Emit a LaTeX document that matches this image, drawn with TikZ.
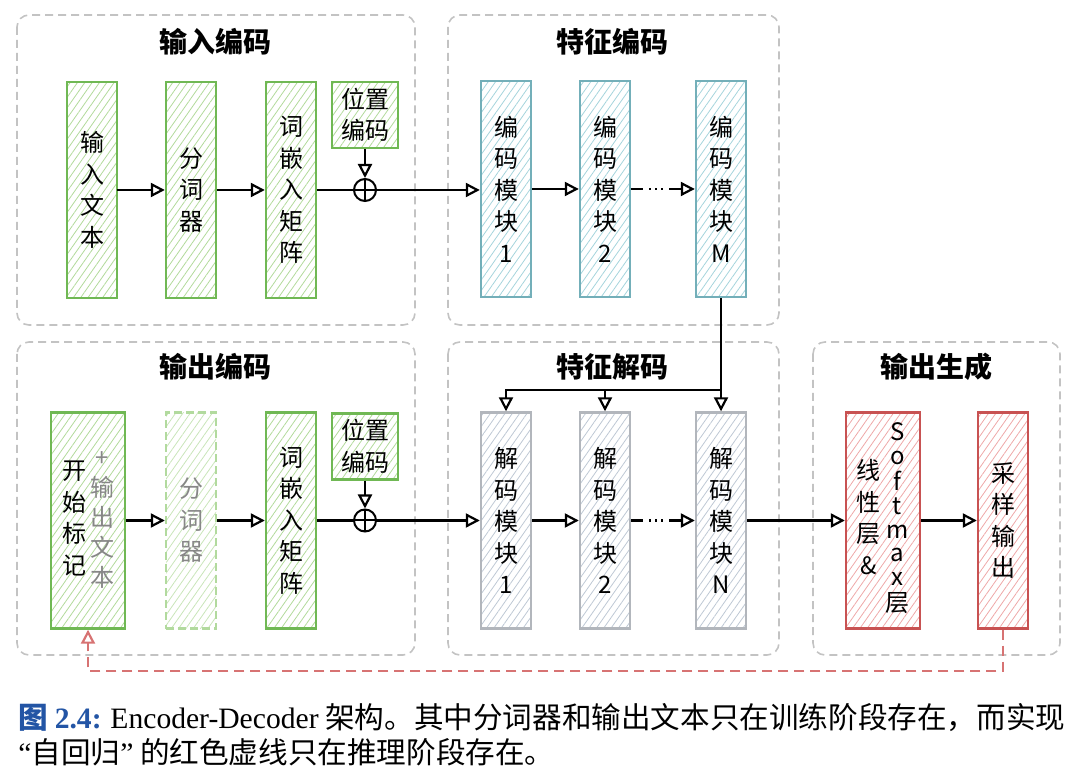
\documentclass[tikz,border=0pt]{standalone}
\usepackage{fontspec}
\setmainfont{Noto Sans CJK SC}
\newfontfamily\capserif{Liberation Serif}
\usetikzlibrary{patterns.meta,arrows.meta,calc}
\definecolor{gB}{RGB}{112,184,84}
\definecolor{gH}{RGB}{178,218,155}
\definecolor{gBL}{RGB}{178,218,158}
\definecolor{tB}{RGB}{115,175,185}
\definecolor{tH}{RGB}{165,212,220}
\definecolor{sB}{RGB}{178,182,188}
\definecolor{sH}{RGB}{190,200,212}
\definecolor{rB}{RGB}{200,82,82}
\definecolor{rH}{RGB}{238,168,168}
\definecolor{rA}{RGB}{215,115,115}
\definecolor{frameC}{RGB}{195,195,195}
\definecolor{capblue}{RGB}{35,85,165}
\definecolor{txtgray}{RGB}{135,135,135}
\newcommand\bxfont{\fontsize{12}{15.75}\selectfont}
\tikzset{
  frame/.style={draw=frameC, dash pattern=on 4pt off 2.5pt, line width=0.8pt, rounded corners=6pt},
  ttl/.style={font=\fontsize{14}{16}\selectfont\bfseries},
  blk/.style={line width=1.2pt, minimum width=25pt, minimum height=108pt, inner sep=0pt, align=center, font=\bxfont},
  gblk/.style={blk, draw=gB, pattern={Lines[angle=55,distance=3pt,line width=0.4pt]}, pattern color=gH},
  gdash/.style={blk, draw=gBL, dash pattern=on 4pt off 2pt, text=txtgray, pattern={Lines[angle=55,distance=3pt,line width=0.4pt]}, pattern color=gH!70},
  tblk/.style={blk, draw=tB, pattern={Lines[angle=55,distance=3pt,line width=0.4pt]}, pattern color=tH},
  sblk/.style={blk, draw=sB, pattern={Lines[angle=55,distance=3pt,line width=0.4pt]}, pattern color=sH},
  rblk/.style={blk, draw=rB, pattern={Lines[angle=55,distance=3pt,line width=0.4pt]}, pattern color=rH},
  posbox/.style={gblk, minimum width=33pt, minimum height=33pt},
  addc/.style={circle, draw, line width=1pt, minimum size=11pt, inner sep=0pt,
    path picture={\draw[line width=1pt] (path picture bounding box.north) -- (path picture bounding box.south)
      (path picture bounding box.west) -- (path picture bounding box.east);}},
  conn/.style={line width=1.2pt},
  arr/.style={line width=1.2pt, -{Triangle[open,length=7pt,width=7pt,line width=1.1pt]}},
  dotarr/.style={arr, dash pattern=on 6pt off 3pt on 1pt off 2pt on 1pt off 2pt on 1pt off 3pt on 60pt},
  rarr/.style={line width=1.1pt, draw=rA, dash pattern=on 5pt off 3pt, -{Triangle[open,length=7pt,width=7pt,line width=1.1pt]}},
}
\begin{document}
\begin{tikzpicture}[x=0.5pt,y=-0.5pt]
\useasboundingbox (0,0) rectangle (1080,779);
% frames
\draw[frame] (17,15) rectangle (415,325);
\draw[frame] (448,15) rectangle (779,325);
\draw[frame] (17,342) rectangle (415,655);
\draw[frame] (448,342) rectangle (779,655);
\draw[frame] (813,342) rectangle (1060,655);
\node[ttl] (t1) at (215,42) {输入编码};
\node[ttl] (t2) at (612,42) {特征编码};
\node[ttl] (t3) at (215,367) {输出编码};
\node[ttl] (t4) at (612,367) {特征解码};
\node[ttl] (t5) at (936,367) {输出生成};
% top row
\node[gblk] (in1) at (92,190) {输\\入\\文\\本};
\node[gblk] (tok1) at (191,190) {分\\词\\器};
\node[gblk] (emb1) at (291,190) {词\\嵌\\入\\矩\\阵};
\node[posbox] (pos1) at (365,115) {位置\\编码};
\node[addc] (add1) at (365,190) {};
\node[tblk] (enc1) at (506,189) {编\\码\\模\\块\\1};
\node[tblk] (enc2) at (605,189) {编\\码\\模\\块\\2};
\node[tblk] (encM) at (721,189) {编\\码\\模\\块\\M};
% bottom row
\node[gblk, minimum width=37pt] (start) at (88,520.5) {%
  \begin{tabular}{@{}c@{\hspace{2pt}}c@{}}
  \begin{tabular}{@{}c@{}}开\\始\\标\\记\end{tabular} &
  {\color{txtgray}\def\arraystretch{0.95}\begin{tabular}{@{}c@{}}+\\输\\出\\文\\本\end{tabular}}
  \end{tabular}};
\node[gdash] (tok2) at (191,520.5) {分\\词\\器};
\node[gblk] (emb2) at (291,520.5) {词\\嵌\\入\\矩\\阵};
\node[posbox] (pos2) at (365,446.5) {位置\\编码};
\node[addc] (add2) at (365,520.5) {};
\node[sblk] (dec1) at (506,520.5) {解\\码\\模\\块\\1};
\node[sblk] (dec2) at (605,520.5) {解\\码\\模\\块\\2};
\node[sblk] (decN) at (721,520.5) {解\\码\\模\\块\\N};
\node[rblk, minimum width=37pt] (lin) at (883,520.5) {%
  \begin{tabular}{@{}c@{\hspace{2.5pt}}c@{}}
  \begin{tabular}{@{}c@{}}线\\性\\层\\\&\end{tabular} &
  {\def\arraystretch{0.75}\begin{tabular}{@{}c@{}}S\\o\\f\\t\\m\\a\\x\\层\end{tabular}}
  \end{tabular}};
\node[rblk] (samp) at (1003,520.5) {采\\样\\输\\出};
% top connectors
\draw[arr] (in1) -- (tok1);
\draw[arr] (tok1) -- (emb1);
\draw[conn] (emb1) -- (add1);
\draw[arr] (pos1) -- (add1);
\draw[arr] (add1) -- (enc1.west |- add1);
\draw[arr] (enc1) -- (enc2);
\draw[dotarr] (enc2) -- (encM);
% encoder to decoder
\coordinate (j) at (721,390);
\draw[arr] (encM) -- (decN);
\draw[arr] (j) -| (dec1.north);
\draw[arr] (dec2.north |- j) -- (dec2.north);
% bottom connectors
\draw[arr] (start) -- (tok2);
\draw[arr] (tok2) -- (emb2);
\draw[conn] (emb2) -- (add2);
\draw[arr] (pos2) -- (add2);
\draw[arr] (add2) -- (dec1.west |- add2);
\draw[arr] (dec1) -- (dec2);
\draw[dotarr] (dec2) -- (decN);
\draw[arr] (decN) -- (lin);
\draw[arr] (lin) -- (samp);
% autoregressive loop
\coordinate (rb) at (0,671);
\draw[rarr] (samp.south) -- (samp.south |- rb) -- (start.south |- rb) -- (start.south);
% caption
\node[anchor=west, inner sep=0pt, font=\fontsize{14.8}{17}\selectfont] (cap1) at (18,718)
  {{\color{capblue}\bfseries 图 {\capserif 2.4:}} {\capserif Encoder-Decoder} 架构。其中分词器和输出文本只在训练阶段存在，而实现};
\node[anchor=west, inner sep=0pt, font=\fontsize{14.8}{17}\selectfont] (cap2) at (18,752)
  {{\capserif “}自回归{\capserif ”} 的红色虚线只在推理阶段存在。};
\end{tikzpicture}
\end{document}
